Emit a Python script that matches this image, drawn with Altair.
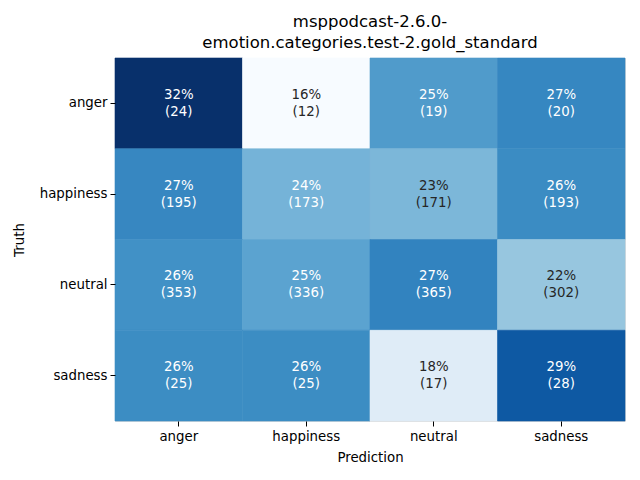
import altair as alt
import pandas as pd

truth = ["anger", "happiness", "neutral", "sadness"]
prediction = ["anger", "happiness", "neutral", "sadness"]
counts = [
    [24, 12, 19, 20],
    [195, 173, 171, 193],
    [353, 336, 365, 302],
    [25, 25, 17, 28],
]

rows = []
for t, row in zip(truth, counts):
    total = sum(row)
    for p, c in zip(prediction, row):
        pct = c / total
        rows.append({"Truth": t, "Prediction": p, "pct": pct, "count": c,
                     "label": f"{round(pct * 100):.0f}%\n({c})"})
df = pd.DataFrame(rows)

blues = ["#f7fbff", "#deebf7", "#c6dbef", "#9ecae1", "#6baed6",
         "#4292c6", "#2171b5", "#08519c", "#08306b"]
vmin, vmax = df["pct"].min(), df["pct"].max()
dom = [vmin + (vmax - vmin) * i / 8 for i in range(9)]
mid = (vmin + vmax) / 2 - 0.005
cscale = alt.Scale(domain=dom, range=blues)

font = "DejaVu Sans"
xenc = alt.X("Prediction:N", sort=prediction, title="Prediction",
             scale=alt.Scale(paddingInner=0, paddingOuter=0),
             axis=alt.Axis(labelAngle=0, domain=False, tickSize=5, tickColor="#000",
                           labelPadding=3, labelFontSize=13.33, titleFontSize=13.33,
                           labelFont=font, titleFont=font, labelColor="#000",
                           titleColor="#000", titleFontWeight="normal", titlePadding=8))
yenc = alt.Y("Truth:N", sort=truth, title="Truth",
             scale=alt.Scale(paddingInner=0, paddingOuter=0),
             axis=alt.Axis(domain=False, tickSize=5, tickColor="#000",
                           labelPadding=3, labelFontSize=13.33, titleFontSize=13.33,
                           labelFont=font, titleFont=font, labelColor="#000",
                           titleColor="#000", titleFontWeight="normal", titlePadding=13))

rect = alt.Chart(df).mark_rect(strokeWidth=0.6).encode(
    x=xenc, y=yenc,
    color=alt.Color("pct:Q", scale=cscale, legend=None),
    stroke=alt.Stroke("pct:Q", scale=cscale, legend=None),
)
text = alt.Chart(df).mark_text(lineBreak="\n", font=font, fontSize=13.33, lineHeight=17, dy=-8.5).encode(
    x=alt.X("Prediction:N", sort=prediction),
    y=alt.Y("Truth:N", sort=truth),
    text="label:N",
    color=alt.condition(alt.datum.pct > mid, alt.value("white"), alt.value("#262626")),
)

chart = (rect + text).properties(
    width=510, height=363,
    title=alt.TitleParams(["msppodcast-2.6.0-", "emotion.categories.test-2.gold_standard"],
                          font=font, fontSize=16.5, fontWeight="normal", color="#000",
                          lineHeight=21, offset=6, anchor="middle"),
    autosize=alt.AutoSizeParams(type="none"),
    padding={"left": 115, "top": 58, "right": 15, "bottom": 59},
).configure_view(strokeWidth=0).configure(background="white")

chart.save("out.html", embed_options={"renderer": "svg", "actions": False})
